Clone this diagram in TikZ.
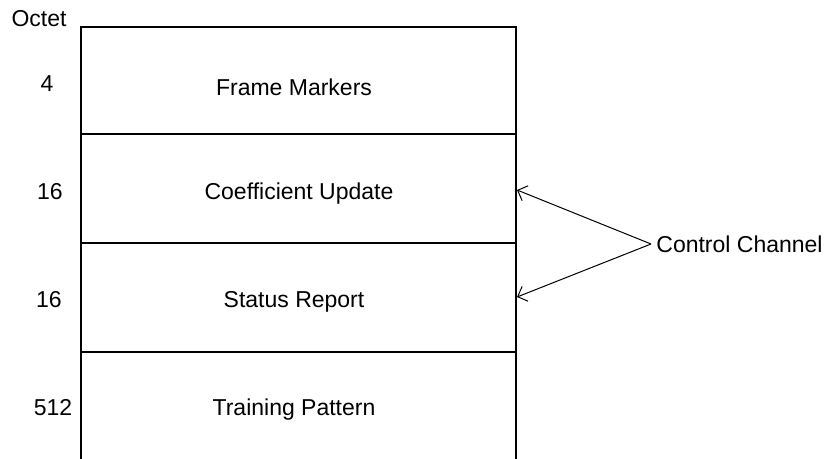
\documentclass[tikz,border=0pt]{standalone}
\usepackage{fontspec}
\setmainfont{Liberation Sans}
\usetikzlibrary{arrows.meta}
\begin{document}
\begin{tikzpicture}[x=0.5pt,y=-0.5pt,
  lbl/.style={font=\fontsize{11.5}{13.5}\selectfont, inner sep=0pt},
  frameline/.style={line width=0.75pt},
  arr/.style={line width=0.5pt, -{Straight Barb[length=4pt,width=8pt]}}]
\useasboundingbox (0,0) rectangle (833,459);
% box
\coordinate (bl) at (81,459);
\coordinate (tl) at (81,27);
\coordinate (tr) at (516,27);
\coordinate (br) at (516,459);
\draw[frameline] (bl) -- (tl) -- (tr) -- (br);
\coordinate (d1l) at (81,134); \coordinate (d1r) at (516,134);
\coordinate (d2l) at (81,243); \coordinate (d2r) at (516,243);
\coordinate (d3l) at (81,352); \coordinate (d3r) at (516,352);
\draw[frameline] (d1l) -- (d1r);
\draw[frameline] (d2l) -- (d2r);
\draw[frameline] (d3l) -- (d3r);
% field labels
\node[lbl] (fm) at (294,87) {Frame Markers};
\node[lbl] (cu) at (299,194) {Coefficient Update};
\node[lbl] (sr) at (294,302) {Status Report};
\node[lbl] (tp) at (294,410) {Training Pattern};
% octet labels
\node[lbl] (oct) at (39,19) {Octet};
\node[lbl] (o4) at (47,84) {4};
\node[lbl] (o16a) at (50,192) {16};
\node[lbl] (o16b) at (49,300) {16};
\node[lbl] (o512) at (53,408) {512};
% control channel
\node[lbl, anchor=west, inner xsep=2.5pt] (cc) at (651,244) {Control Channel};
\coordinate (t1) at (517,190);
\coordinate (t2) at (517,297);
\draw[arr] (cc.west) -- (t1);
\draw[arr] (cc.west) -- (t2);
\end{tikzpicture}
\end{document}
